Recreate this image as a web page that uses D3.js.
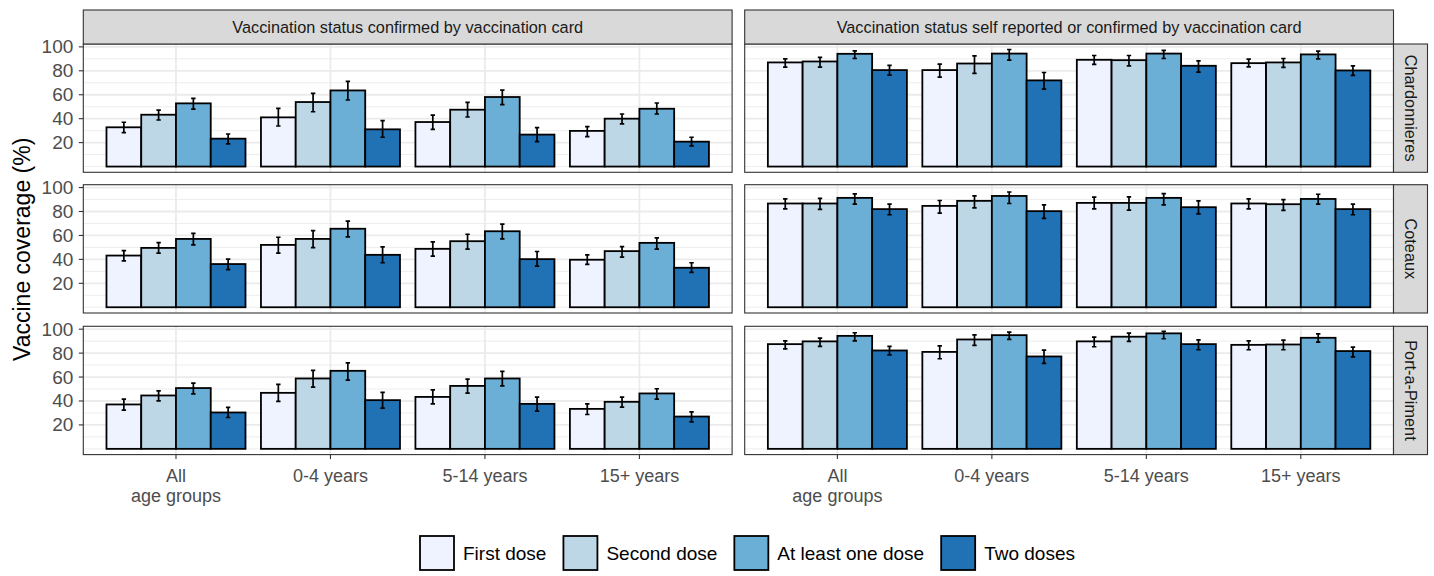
<!DOCTYPE html>
<html>
<head>
<meta charset="utf-8">
<script src="https://cdn.jsdelivr.net/npm/d3@7"></script>
<style>
  body { margin: 0; background: #ffffff; }
  text { font-family: "Liberation Sans", Arial, sans-serif; }
</style>
</head>
<body>
<div id="canvas"></div>
<script>
// global const
const width = 1434, height = 576;
const panelLeft = [83.3, 744.7], panelWidth = 648.8;
const panelTop = [44, 184.7, 326.3], panelHeight = 128.3;
const strip = { top: 10, size: 34 };
const colors = { grid: "#EBEBEB", border: "#333333", strip: "#D9D9D9", axisText: "#4D4D4D" };
const doseColors = ["#EFF3FF", "#BDD7E7", "#6BAED6", "#2171B5"];

// data
const statuses = ["Vaccination status confirmed by vaccination card", "Vaccination status self reported or confirmed by vaccination card"];
const communes = ["Chardonnieres", "Coteaux", "Port-a-Piment"];
const ageGroups = ["All\nage groups", "0-4 years", "5-14 years", "15+ years"];
const doses = ["First dose", "Second dose", "At least one dose", "Two doses"];
const yTicks = [20, 40, 60, 80, 100];
const yMinor = [0, 10, 30, 50, 70, 90];

// values in order: age group, then dose
const cardChardonnieres = [32.8, 43.3, 52.8, 23.3, 41.1, 53.9, 63.6, 31.1, 37.2, 47.5, 58.1, 26.7, 29.8, 40.0, 48.3, 20.8];
const cardChardonnieresLow = [28.3, 38.9, 48.0, 18.9, 33.9, 45.8, 55.6, 24.5, 31.1, 41.4, 51.7, 20.8, 25.0, 35.6, 43.9, 17.2];
const cardChardonnieresHigh = [37.0, 47.2, 57.0, 27.2, 48.6, 61.2, 71.1, 38.3, 43.0, 53.7, 63.9, 32.5, 33.3, 43.9, 53.1, 24.5];

const selfChardonnieres = [87.0, 87.8, 94.2, 80.6, 80.6, 86.1, 94.4, 72.0, 89.2, 88.9, 94.4, 84.2, 86.4, 87.0, 93.7, 80.3];
const selfChardonnieresLow = [83.1, 83.1, 90.3, 76.4, 74.8, 77.8, 88.9, 64.7, 85.3, 84.2, 90.3, 78.9, 83.3, 82.8, 90.0, 76.2];
const selfChardonnieresHigh = [90.0, 91.2, 96.7, 84.5, 85.6, 92.5, 97.8, 78.6, 92.8, 92.8, 97.0, 88.3, 89.7, 90.3, 96.4, 84.2];

const cardCoteaux = [43.2, 49.6, 57.1, 36.1, 52.1, 57.1, 65.6, 43.8, 48.8, 55.2, 63.5, 40.2, 39.7, 46.9, 53.8, 33.0];
const cardCoteauxLow = [38.8, 45.2, 52.1, 31.4, 45.2, 49.9, 58.8, 37.2, 42.7, 48.5, 57.1, 34.4, 35.8, 41.9, 48.5, 29.1];
const cardCoteauxHigh = [47.4, 54.0, 61.8, 40.2, 58.5, 64.0, 72.0, 50.5, 54.6, 61.0, 69.5, 46.6, 43.8, 50.7, 57.9, 37.2];

const selfCoteaux = [86.7, 86.7, 91.4, 82.0, 84.7, 88.9, 93.0, 80.3, 87.2, 87.2, 91.4, 83.6, 86.7, 86.1, 90.5, 82.0];
const selfCoteauxLow = [82.2, 81.7, 86.1, 77.3, 78.7, 83.1, 86.7, 74.3, 82.2, 81.2, 85.6, 78.1, 82.2, 80.9, 86.1, 77.3];
const selfCoteauxHigh = [90.5, 90.9, 94.7, 86.1, 89.2, 93.0, 96.3, 85.6, 92.0, 92.2, 95.0, 88.9, 90.5, 90.0, 94.4, 86.1];

const cardPortAPiment = [37.1, 44.6, 50.8, 30.4, 46.8, 58.8, 65.2, 40.7, 43.4, 52.6, 58.8, 37.6, 33.4, 39.3, 46.3, 27.0];
const cardPortAPimentLow = [32.4, 40.1, 46.0, 26.2, 39.6, 51.5, 57.5, 34.0, 37.6, 46.5, 52.6, 31.5, 28.7, 34.8, 41.6, 22.6];
const cardPortAPimentHigh = [41.5, 48.5, 54.9, 34.6, 53.8, 65.5, 71.9, 47.2, 49.3, 58.3, 64.7, 43.2, 37.6, 43.2, 50.2, 30.9];

const selfPortAPiment = [87.5, 89.8, 94.4, 82.2, 81.0, 91.4, 95.0, 77.2, 89.8, 93.7, 96.5, 87.5, 86.9, 87.2, 92.8, 81.7];
const selfPortAPimentLow = [83.6, 85.6, 90.3, 78.6, 75.3, 86.4, 91.4, 71.4, 85.3, 89.8, 92.0, 82.8, 82.8, 82.8, 89.2, 76.9];
const selfPortAPimentHigh = [90.3, 92.6, 97.0, 85.6, 86.1, 95.3, 97.6, 82.5, 93.4, 96.7, 98.2, 91.1, 90.3, 90.9, 96.1, 85.0];

// panels: [row][col]
const panels = [
    [[cardChardonnieres, cardChardonnieresLow, cardChardonnieresHigh], [selfChardonnieres, selfChardonnieresLow, selfChardonnieresHigh]],
    [[cardCoteaux, cardCoteauxLow, cardCoteauxHigh], [selfCoteaux, selfCoteauxLow, selfCoteauxHigh]],
    [[cardPortAPiment, cardPortAPimentLow, cardPortAPimentHigh], [selfPortAPiment, selfPortAPimentLow, selfPortAPimentHigh]]
];

var canvas = d3.select("#canvas")
    .append("svg")
    .attr("width", width)
    .attr("height", height)
    .style("background-color", "white")

function draw() {

    panels.forEach((row, r) => {
        var yScale = d3.scaleLinear()
            .domain([-4.8, 102.4])
            .range([panelTop[r] + panelHeight, panelTop[r]])

        row.forEach((panel, c) => {
            var x0 = panelLeft[c]
            var xScale = d3.scalePoint()
                .domain(ageGroups)
                .range([x0, x0 + panelWidth])
                .padding(0.6)
            var doseScale = d3.scaleBand()
                .domain(doses)
                .range([-0.45 * xScale.step(), 0.45 * xScale.step()])

            var g = canvas.append("g")

            g.append("rect")
                .attr("x", x0).attr("y", panelTop[r])
                .attr("width", panelWidth).attr("height", panelHeight)
                .attr("fill", "white")

            // grid
            g.selectAll("minor")
                .data(yMinor)
                .join("line")
                .attr("x1", x0).attr("x2", x0 + panelWidth)
                .attr("y1", d => yScale(d)).attr("y2", d => yScale(d))
                .attr("stroke", colors.grid).attr("stroke-width", 0.9)

            g.selectAll("major")
                .data(yTicks)
                .join("line")
                .attr("x1", x0).attr("x2", x0 + panelWidth)
                .attr("y1", d => yScale(d)).attr("y2", d => yScale(d))
                .attr("stroke", colors.grid).attr("stroke-width", 1.8)

            g.selectAll("vmajor")
                .data(ageGroups)
                .join("line")
                .attr("x1", d => xScale(d)).attr("x2", d => xScale(d))
                .attr("y1", panelTop[r]).attr("y2", panelTop[r] + panelHeight)
                .attr("stroke", colors.grid).attr("stroke-width", 1.8)

            var rows = []
            ageGroups.forEach((a, i) => {
                doses.forEach((d, j) => {
                    var k = i * doses.length + j
                    rows.push({ age: a, dose: d, j: j, v: panel[0][k], lo: panel[1][k], hi: panel[2][k] })
                })
            })

            // bars
            g.selectAll("bar")
                .data(rows)
                .join("rect")
                .attr("x", d => xScale(d.age) + doseScale(d.dose))
                .attr("y", d => yScale(d.v))
                .attr("width", doseScale.bandwidth())
                .attr("height", d => yScale(0) - yScale(d.v))
                .attr("fill", d => doseColors[d.j])
                .attr("stroke", "black")
                .attr("stroke-width", 1.8)

            // error bars
            var cap = 2.2
            rows.forEach(d => {
                var cx = xScale(d.age) + doseScale(d.dose) + doseScale.bandwidth() / 2
                var path = `M${cx},${yScale(d.lo)}V${yScale(d.hi)}` +
                    `M${cx - cap},${yScale(d.lo)}H${cx + cap}` +
                    `M${cx - cap},${yScale(d.hi)}H${cx + cap}`
                g.append("path")
                    .attr("d", path)
                    .attr("fill", "none")
                    .attr("stroke", "black")
                    .attr("stroke-width", 1.7)
            })

            // border
            g.append("rect")
                .attr("x", x0).attr("y", panelTop[r])
                .attr("width", panelWidth).attr("height", panelHeight)
                .attr("fill", "none")
                .attr("stroke", colors.border).attr("stroke-width", 1.1)

            // top strips
            if (r == 0) {
                canvas.append("rect")
                    .attr("x", x0).attr("y", strip.top)
                    .attr("width", panelWidth).attr("height", strip.size)
                    .attr("fill", colors.strip)
                    .attr("stroke", colors.border).attr("stroke-width", 1.1)
                canvas.append("text")
                    .attr("x", x0 + panelWidth / 2)
                    .attr("y", strip.top + strip.size / 2)
                    .attr("text-anchor", "middle")
                    .attr("dominant-baseline", "central")
                    .attr("font-size", 16.3)
                    .attr("fill", "#1A1A1A")
                    .text(statuses[c])
            }

            // left axis
            if (c == 0) {
                canvas.selectAll("ytick")
                    .data(yTicks)
                    .join("line")
                    .attr("x1", x0 - 4.5).attr("x2", x0)
                    .attr("y1", d => yScale(d)).attr("y2", d => yScale(d))
                    .attr("stroke", colors.border).attr("stroke-width", 1.1)
                canvas.selectAll("ylabel")
                    .data(yTicks)
                    .join("text")
                    .attr("x", x0 - 10)
                    .attr("y", d => yScale(d))
                    .attr("text-anchor", "end")
                    .attr("dominant-baseline", "central")
                    .attr("font-size", 19)
                    .attr("fill", colors.axisText)
                    .text(d => d)
            }

            // bottom axis
            if (r == panels.length - 1) {
                var yb = panelTop[r] + panelHeight
                canvas.selectAll("xtick")
                    .data(ageGroups)
                    .join("line")
                    .attr("x1", d => xScale(d)).attr("x2", d => xScale(d))
                    .attr("y1", yb).attr("y2", yb + 4.5)
                    .attr("stroke", colors.border).attr("stroke-width", 1.1)
                var labels = canvas.selectAll("xlabel")
                    .data(ageGroups)
                    .join("text")
                    .attr("text-anchor", "middle")
                    .attr("font-size", 18)
                    .attr("fill", colors.axisText)
                labels.selectAll("tspan")
                    .data(d => d.split("\n").map(t => ({ t: t, x: xScale(d) })))
                    .join("tspan")
                    .attr("x", d => d.x)
                    .attr("y", (d, i) => yb + 27 + i * 20)
                    .text(d => d.t)
            }
        })

        // right strips
        var sx = panelLeft[1] + panelWidth
        canvas.append("rect")
            .attr("x", sx).attr("y", panelTop[r])
            .attr("width", strip.size).attr("height", panelHeight)
            .attr("fill", colors.strip)
            .attr("stroke", colors.border).attr("stroke-width", 1.1)
        canvas.append("text")
            .attr("transform", `translate(${sx + strip.size / 2}, ${panelTop[r] + panelHeight / 2}) rotate(90)`)
            .attr("text-anchor", "middle")
            .attr("dominant-baseline", "central")
            .attr("font-size", 16.3)
            .attr("fill", "#1A1A1A")
            .text(communes[r])
    })

    // y axis title
    canvas.append("text")
        .attr("transform", `translate(22, ${(panelTop[0] + panelTop[2] + panelHeight) / 2}) rotate(-90)`)
        .attr("text-anchor", "middle")
        .attr("dominant-baseline", "central")
        .attr("font-size", 23)
        .attr("fill", "black")
        .text("Vaccine coverage (%)")

    // legend
    var legend = canvas.append("g")
    var lx = 420, ly = 536, key = 34
    doses.forEach((d, i) => {
        legend.append("rect")
            .attr("x", lx).attr("y", ly)
            .attr("width", key).attr("height", key)
            .attr("fill", doseColors[i])
            .attr("stroke", "black").attr("stroke-width", 1.8)
        var t = legend.append("text")
            .attr("x", lx + key + 9)
            .attr("y", ly + key / 2)
            .attr("dominant-baseline", "central")
            .attr("font-size", 19)
            .attr("fill", "black")
            .text(d)
        lx += key + 9 + t.node().getComputedTextLength() + 17
    })
}

draw()
</script>
</body>
</html>
